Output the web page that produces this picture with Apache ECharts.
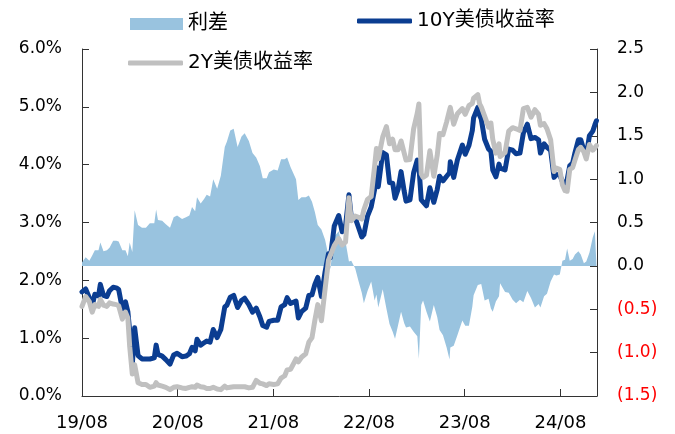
<!DOCTYPE html>
<html><head><meta charset="utf-8">
<script src="https://cdn.jsdelivr.net/npm/echarts@6/dist/echarts.min.js"></script>
<style>html,body{margin:0;padding:0;background:#fff}#c{width:675px;height:434px}</style>
</head><body><div id="c"></div>
<script>
const dates = ['2019-08-30','2019-09-13','2019-09-27','2019-10-08','2019-10-18','2019-11-01','2019-11-08','2019-11-20','2019-12-03','2019-12-13','2019-12-27',
'2020-01-08','2020-01-17','2020-01-31','2020-02-12','2020-02-21','2020-02-28','2020-03-09','2020-03-18','2020-03-31','2020-04-15','2020-04-30','2020-05-15','2020-06-01','2020-06-08','2020-06-15','2020-07-01','2020-07-15','2020-07-31','2020-08-14','2020-08-27','2020-09-15','2020-09-30','2020-10-13','2020-10-23','2020-11-04','2020-11-11','2020-11-25','2020-12-08','2020-12-18','2020-12-31',
'2021-01-12','2021-01-27','2021-02-10','2021-02-25','2021-03-05','2021-03-18','2021-03-31','2021-04-15','2021-04-30','2021-05-12','2021-05-28','2021-06-11','2021-06-25','2021-07-09','2021-07-20','2021-08-04','2021-08-13','2021-08-31','2021-09-15','2021-09-28','2021-10-12','2021-10-21','2021-11-03','2021-11-24','2021-12-03','2021-12-15','2021-12-31',
'2022-01-12','2022-01-24','2022-02-04','2022-02-15','2022-03-01','2022-03-15','2022-03-28','2022-04-04','2022-04-19','2022-05-06','2022-05-19','2022-06-01','2022-06-14','2022-06-23','2022-07-08','2022-07-21','2022-08-02','2022-08-10','2022-08-24','2022-09-07','2022-09-20','2022-09-27','2022-10-04','2022-10-21','2022-11-04','2022-11-16','2022-11-28','2022-12-07','2022-12-19','2022-12-30',
'2023-01-11','2023-01-18','2023-02-02','2023-02-16','2023-03-02','2023-03-08','2023-03-17','2023-03-24','2023-04-06','2023-04-19','2023-05-04','2023-05-17','2023-05-26','2023-06-08','2023-06-22','2023-07-03','2023-07-06','2023-07-19','2023-08-02','2023-08-21','2023-09-01','2023-09-15','2023-09-28','2023-10-03','2023-10-19','2023-10-26','2023-11-01','2023-11-14','2023-11-29','2023-12-08','2023-12-15','2023-12-27',
'2024-01-08','2024-01-12','2024-01-31','2024-02-14','2024-02-29','2024-03-13','2024-03-28','2024-04-10','2024-04-25','2024-05-09','2024-05-24','2024-06-07','2024-06-14','2024-06-28','2024-07-09','2024-07-23','2024-08-05','2024-08-14','2024-08-27','2024-09-06','2024-09-16','2024-09-24','2024-10-04','2024-10-15','2024-10-24','2024-11-06','2024-11-15','2024-11-27','2024-12-06','2024-12-18','2024-12-31',
'2025-01-08','2025-01-14'];

const y10 = [1.80,1.85,1.70,1.56,1.76,1.73,1.93,1.74,1.72,1.82,1.88,
1.87,1.84,1.51,1.63,1.46,1.13,0.54,1.18,0.70,0.64,0.64,0.64,0.66,0.88,0.72,0.69,0.63,0.55,0.71,0.74,0.68,0.69,0.73,0.84,0.78,0.98,0.88,0.92,0.95,0.93,
1.15,1.01,1.15,1.54,1.57,1.71,1.74,1.53,1.65,1.69,1.58,1.45,1.52,1.37,1.22,1.19,1.29,1.31,1.31,1.54,1.58,1.70,1.60,1.64,1.35,1.46,1.52,
1.74,1.75,1.93,2.05,1.72,2.15,2.46,2.39,2.94,3.12,2.84,2.94,3.48,3.09,3.08,2.91,2.75,2.79,3.11,3.27,3.57,3.95,3.62,4.21,4.17,3.69,3.68,3.42,3.58,3.88,
3.54,3.37,3.39,3.86,4.08,3.98,3.39,3.38,3.29,3.60,3.35,3.57,3.80,3.72,3.80,3.86,4.05,3.78,4.08,4.34,4.18,4.33,4.59,4.81,4.99,4.85,4.79,4.44,4.27,4.23,3.91,3.79,
4.01,3.94,3.91,4.27,4.25,4.19,4.20,4.55,4.70,4.45,4.47,4.43,4.20,4.36,4.30,4.25,3.78,3.83,3.82,3.71,3.62,3.74,3.98,4.03,4.21,4.43,4.43,4.25,4.15,4.50,4.58,
4.69,4.76];

const y2 = [1.55,1.72,1.63,1.45,1.58,1.55,1.67,1.57,1.55,1.61,1.59,
1.58,1.56,1.33,1.45,1.35,0.86,0.38,0.54,0.23,0.20,0.20,0.15,0.17,0.23,0.19,0.17,0.15,0.11,0.15,0.16,0.14,0.13,0.15,0.16,0.15,0.19,0.16,0.15,0.13,0.13,
0.15,0.12,0.11,0.17,0.14,0.15,0.16,0.16,0.16,0.16,0.14,0.15,0.27,0.22,0.21,0.18,0.21,0.20,0.21,0.31,0.35,0.45,0.46,0.64,0.59,0.67,0.73,
0.93,1.01,1.31,1.58,1.30,1.85,2.35,2.43,2.60,2.72,2.61,2.66,3.43,3.03,3.11,3.09,3.06,3.22,3.40,3.45,3.97,4.28,4.10,4.48,4.66,4.36,4.44,4.26,4.26,4.41,
4.20,4.08,4.09,4.62,4.89,5.05,3.84,3.78,3.82,4.24,3.80,4.16,4.54,4.52,4.74,4.94,4.99,4.70,4.88,4.97,4.87,5.02,5.06,5.15,5.21,5.05,5.00,4.84,4.65,4.72,4.44,4.20,
4.36,4.14,4.21,4.58,4.64,4.62,4.59,4.97,4.99,4.82,4.95,4.87,4.68,4.71,4.62,4.43,3.88,3.94,3.92,3.65,3.55,3.54,3.92,3.95,4.08,4.26,4.30,4.22,4.10,4.35,4.25,
4.29,4.33];

const spread = [0.04,0.10,0.06,0.12,0.18,0.18,0.27,0.17,0.18,0.21,0.29,
0.29,0.28,0.18,0.18,0.11,0.27,0.16,0.64,0.47,0.44,0.44,0.49,0.49,0.65,0.53,0.52,0.48,0.44,0.56,0.58,0.54,0.56,0.58,0.68,0.63,0.79,0.72,0.77,0.82,0.80,
1.00,0.89,1.04,1.37,1.43,1.56,1.58,1.37,1.49,1.53,1.44,1.30,1.25,1.15,1.01,1.01,1.08,1.11,1.10,1.23,1.23,1.25,1.14,1.00,0.76,0.79,0.79,
0.81,0.74,0.62,0.47,0.42,0.30,0.11,-0.04,0.34,0.40,0.23,0.28,0.05,0.06,-0.03,-0.18,-0.31,-0.43,-0.29,-0.18,-0.40,-0.33,-0.48,-0.27,-0.49,-0.67,-0.76,-0.84,-0.68,-0.53,
-0.66,-0.71,-0.70,-0.76,-0.81,-1.07,-0.45,-0.40,-0.53,-0.64,-0.45,-0.59,-0.74,-0.80,-0.94,-1.08,-0.94,-0.92,-0.80,-0.63,-0.69,-0.69,-0.47,-0.34,-0.22,-0.20,-0.21,-0.40,-0.38,-0.49,-0.53,-0.41,
-0.35,-0.20,-0.30,-0.31,-0.39,-0.43,-0.39,-0.42,-0.29,-0.37,-0.48,-0.44,-0.48,-0.35,-0.32,-0.18,-0.10,-0.11,-0.10,0.06,0.07,0.20,0.06,0.08,0.13,0.17,0.13,0.03,0.05,0.15,0.33,
0.40,0.42];

const yLeftTicks = {min:0, max:6, step:1};
const yRightTicks = {min:-1.5, max:2.5, step:0.5};
const names = ['利差','10Y美债收益率','2Y美债收益率'];

const DAY = 86400000;
const t0 = Date.UTC(2019,7,30);
const toX = d => (Date.parse(d + 'T00:00:00Z') - t0) / DAY;
const pts = arr => arr.map((v,i)=>[toX(dates[i]), v]);

const chart = echarts.init(document.getElementById('c'), null, {renderer:'canvas'});
const font = 'DejaVu Sans';
const lf = "'DejaVu Sans','Noto Sans CJK SC'";
chart.setOption({
  animation:false,
  grid:{left:82,right:78,top:49,bottom:38,containLabel:false,outerBoundsMode:'none'},
  legend:[
    {data:[names[0]], left:130, top:14, padding:0, itemWidth:53, itemHeight:12, icon:'rect',
     textStyle:{fontFamily:lf,fontSize:20,color:'#000'}},
    {data:[names[1]], left:357, top:11, padding:0, itemWidth:55, itemHeight:5, icon:'roundRect',
     textStyle:{fontFamily:lf,fontSize:20,color:'#000'}},
    {data:[names[2]], left:128, top:53, padding:0, itemWidth:55, itemHeight:5, icon:'roundRect',
     textStyle:{fontFamily:lf,fontSize:20,color:'#000'}}
  ],
  xAxis:{type:'value', min:0, max:1966, interval:365.25,
    axisLine:{lineStyle:{color:'#333',width:1}},
    axisTick:{inside:true,length:7,lineStyle:{color:'#333'}},
    splitLine:{show:false},
    axisLabel:{showMaxLabel:false, margin:18, fontFamily:font, fontSize:18, color:'#000',
      formatter:v=>{ const r=v/365.25; if(Math.abs(r-Math.round(r))>0.01) return '';
        const d=new Date(t0+v*DAY+DAY/2); return String(d.getUTCFullYear()).slice(2)+'/'+String(d.getUTCMonth()+1).padStart(2,'0');}}},
  yAxis:[
    {type:'value', min:yLeftTicks.min, max:yLeftTicks.max, interval:yLeftTicks.step, position:'left',
     axisLine:{show:true,lineStyle:{color:'#333'}}, axisTick:{show:true,inside:true,length:7,lineStyle:{color:'#333'}},
     splitLine:{show:false},
     axisLabel:{margin:20, fontFamily:font, fontSize:17, color:'#000', formatter:v=>v.toFixed(1)+'%'}},
    {type:'value', min:yRightTicks.min, max:yRightTicks.max, interval:yRightTicks.step, position:'right',
     axisLine:{show:true,lineStyle:{color:'#333'}}, axisTick:{show:true,inside:true,length:7,lineStyle:{color:'#333'}},
     splitLine:{show:false},
     axisLabel:{margin:20, fontFamily:font, fontSize:17,
       color:(v)=> (Number(v) < 0 ? '#ff0000' : '#000'),
       formatter:v=> v<0 ? '('+Math.abs(v).toFixed(1)+')' : v.toFixed(1)}}
  ],
  series:[
    {name:names[0], type:'line', yAxisIndex:1, data:pts(spread), symbol:'none', showSymbol:false,
     lineStyle:{width:0,color:'#99c3df'}, itemStyle:{color:'#99c3df'}, areaStyle:{color:'#99c3df',opacity:1}, z:1},
    {name:names[1], type:'line', yAxisIndex:0, data:pts(y10), symbol:'none', showSymbol:false,
     lineStyle:{width:5,color:'#0b3d91',join:'round',cap:'round'}, itemStyle:{color:'#0b3d91'}, z:3},
    {name:names[2], type:'line', yAxisIndex:0, data:pts(y2), symbol:'none', showSymbol:false,
     lineStyle:{width:5,color:'#c0c0c0',join:'round',cap:'round'}, itemStyle:{color:'#c0c0c0'}, z:4}
  ]
});
</script></body></html>
